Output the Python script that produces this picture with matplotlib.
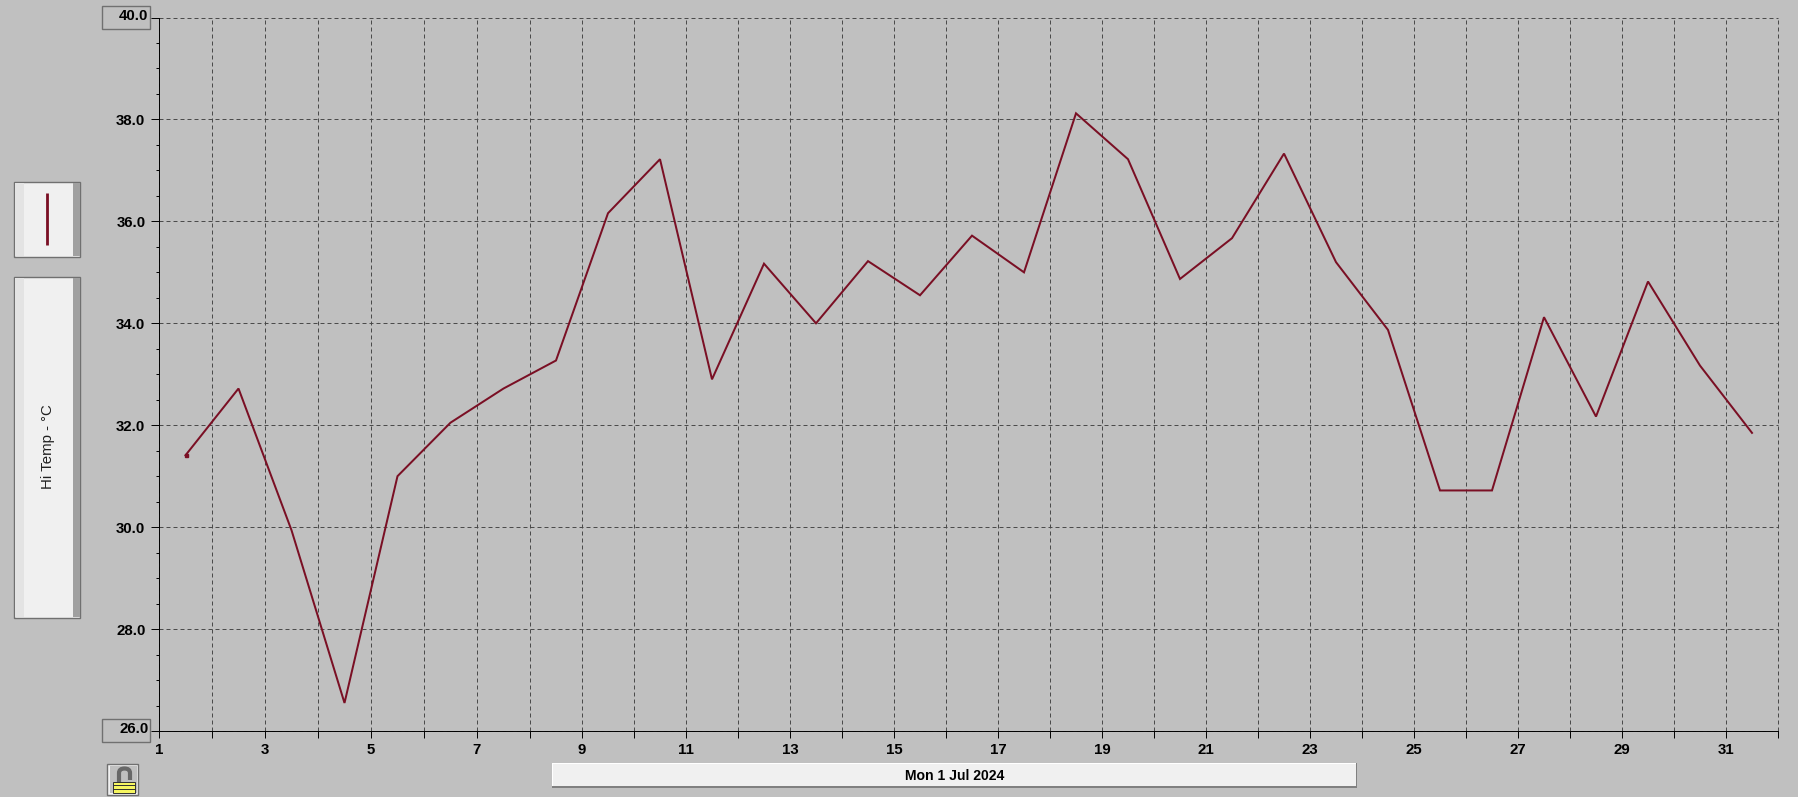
"""Hi Temp daily chart, July 2024 - old weather-station software look."""
import numpy as np
import matplotlib
matplotlib.use("Agg")
import matplotlib.pyplot as plt
from matplotlib.patches import Rectangle, PathPatch
from matplotlib.path import Path

plt.rcParams["font.family"] = ["Liberation Sans", "DejaVu Sans"]
plt.rcParams["lines.scale_dashes"] = False

# data
days = [1.5, 2.5, 3.5, 4.5, 5.5, 6.5, 7.5, 8.5, 9.5, 10.5, 11.5, 12.5, 13.5, 14.5, 15.5, 16.5,
        17.5, 18.5, 19.5, 20.5, 21.5, 22.5, 23.5, 24.5, 25.5, 26.5, 27.5, 28.5, 29.5, 30.5, 31.5]
hi_temp = [31.41, 32.72, 29.94, 26.55, 31.0, 32.05, 32.72, 33.27, 36.16, 37.22, 32.9, 35.17, 34.0, 35.22, 34.55, 35.72,
           35.0, 38.12, 37.22, 34.87, 35.67, 37.33, 35.2, 33.87, 30.72, 30.72, 34.12, 32.17, 34.82, 33.17, 31.85]
x_ticks = list(range(1, 33))
x_labels = [str(d) if d % 2 == 1 and d < 32 else "" for d in x_ticks]
y_major = [26, 28, 30, 32, 34, 36, 38, 40]
y_minor = [v + s for v in y_major[:-1] for s in (0.5, 1.0, 1.5)]
y_labels = ["", "28.0", "30.0", "32.0", "34.0", "36.0", "38.0", ""]
series_name = "Hi Temp - \u00b0C"
date_label = "Mon 1 Jul 2024"

W, H = 1799, 797
BG = "#c0c0c0"
LINE = "#7a0f24"
GRID = "#484848"
FRAME = "#707070"
LABEL_PX = 15
PT = 0.72   # px -> pt at dpi 100
LW1 = 0.7   # just under one px, so agg snaps it to a single pixel column


# the day axis is 53 px wide per day up to the 8th and 52 px afterwards
def day_fwd(x):
    x = np.asarray(x, dtype=float)
    return np.where(x < 8, x * 53.0, 8 * 53.0 + (x - 8) * 52.0)


def day_inv(p):
    p = np.asarray(p, dtype=float)
    return np.where(p < 8 * 53.0, p / 53.0, 8 + (p - 8 * 53.0) / 52.0)


def box(ui, x0, y0, x1, y1, fc, ec="none", lw=0, z=1):
    ui.add_patch(Rectangle((x0, y0), x1 - x0, y1 - y0, fc=fc, ec=ec, lw=lw, zorder=z))


def panel(ui, x0, y0, x1, y1):
    box(ui, x0, y0, x1, y1, "#f0f0f0", FRAME, 1.0, z=1)
    box(ui, x0 + 1, y0 + 1, x0 + 10, y1 - 1, "#e3e3e3", z=2)
    box(ui, x1 - 7.5, y0 + 1, x1 - 0.5, y1 - 1, "#a0a0a0", z=2)


def draw_lock(ui):
    box(ui, 107.5, 763.5, 138.5, 794.5, "#f2f2f2", FRAME, 1.0)
    box(ui, 110.5, 766, 137, 793, BG, z=2)
    shackle = Path([(119, 783), (119, 773), (119, 768.5), (124.5, 768.5), (130, 768.5), (130, 773), (130, 780)],
                   [Path.MOVETO, Path.LINETO, Path.CURVE3, Path.CURVE3, Path.CURVE3, Path.CURVE3, Path.LINETO])
    ui.add_patch(PathPatch(shackle, fc="none", ec="#686868", lw=3.0, zorder=3, capstyle="butt"))
    box(ui, 113.5, 781.5, 135, 792.8, "#f6f660", "#303030", 0.7, z=4)
    for yy in (785.2, 789):
        ui.plot([113.5, 135], [yy, yy], color="#303030", lw=0.7, zorder=5)


fig = plt.figure(figsize=(W / 100, H / 100), dpi=100, facecolor=BG)

# window furniture, drawn in pixel coordinates
ui = fig.add_axes([0, 0, 1, 1], zorder=0)
ui.set_xlim(0, W)
ui.set_ylim(H, 0)
ui.axis("off")

panel(ui, 14.5, 181.5, 80.5, 256.5)
panel(ui, 14.5, 276.5, 80.5, 617.5)
ui.plot([47.3, 47.3], [193, 245], color=LINE, lw=2.8 * PT, zorder=3, solid_capstyle="butt")
ui.text(48.5, 447, series_name, rotation=90, ha="center", va="center", fontsize=10.8, color="#202020", zorder=3)

box(ui, 102.5, 5.5, 150.5, 28.5, BG, FRAME, 1.0)
box(ui, 102.5, 718.5, 150.5, 741.5, BG, FRAME, 1.0)
ui.text(148.5, 16, "40.0", ha="right", va="center", fontsize=LABEL_PX * PT, fontweight="bold", color="black", zorder=3)
ui.text(148.5, 729, "26.0", ha="right", va="center", fontsize=LABEL_PX * PT, fontweight="bold", color="black", zorder=3)

box(ui, 552, 763, 1357.5, 787, "#f0f0f0", z=1)
box(ui, 552, 763, 1357.5, 764, "#ffffff", z=2)
box(ui, 552, 763, 553, 787, "#ffffff", z=2)
box(ui, 552, 786, 1357.5, 787.5, "#808080", z=2)
box(ui, 1356.5, 763, 1357.5, 787.5, "#808080", z=2)
ui.text(954.5, 775.5, date_label, ha="center", va="center", fontsize=14 * PT, fontweight="bold", color="black", zorder=3)

draw_lock(ui)

# plot area
left, right, top, bottom = 159.0, 1778.0, 17.52, 731.0
ax = fig.add_axes([left / W, 1 - bottom / H, (right - left) / W, (bottom - top) / H], zorder=1)
ax.patch.set_alpha(0)
ax.set_xscale("function", functions=(day_fwd, day_inv))
ax.set_xlim(1, 32)
ax.set_ylim(26, 40)

ax.set_xticks(x_ticks)
ax.set_xticklabels(x_labels)
ax.set_yticks(y_major)
ax.set_yticklabels(y_labels)
ax.set_yticks(y_minor, minor=True)
ax.xaxis.set_minor_locator(plt.NullLocator())

ax.tick_params(axis="x", which="major", length=7 * PT, width=LW1, pad=3.5, color="black")
ax.tick_params(axis="y", which="major", length=8 * PT, width=LW1, pad=4, color="black")
ax.tick_params(axis="y", which="minor", length=3.5 * PT, width=LW1, color="black")
for lab in ax.get_xticklabels() + ax.get_yticklabels():
    lab.set_fontsize(LABEL_PX * PT)
    lab.set_fontweight("bold")

ax.grid(True, which="major", color=GRID, lw=LW1, linestyle=(0, (4 * PT, 3 * PT)))
for g in ax.get_xgridlines() + ax.get_ygridlines():
    g.set_clip_on(False)
ax.set_axisbelow(True)

for side in ("top", "right"):
    ax.spines[side].set_visible(False)
for side in ("left", "bottom"):
    ax.spines[side].set_linewidth(LW1)
    ax.spines[side].set_color("black")

ax.plot(days, hi_temp, color=LINE, lw=2.0 * PT, solid_joinstyle="miter", zorder=3)
ax.plot(days[:1], hi_temp[:1], ls="none", marker="s", ms=3 * PT, color=LINE, zorder=3)

fig.savefig("out.png", dpi=100, facecolor=BG)
